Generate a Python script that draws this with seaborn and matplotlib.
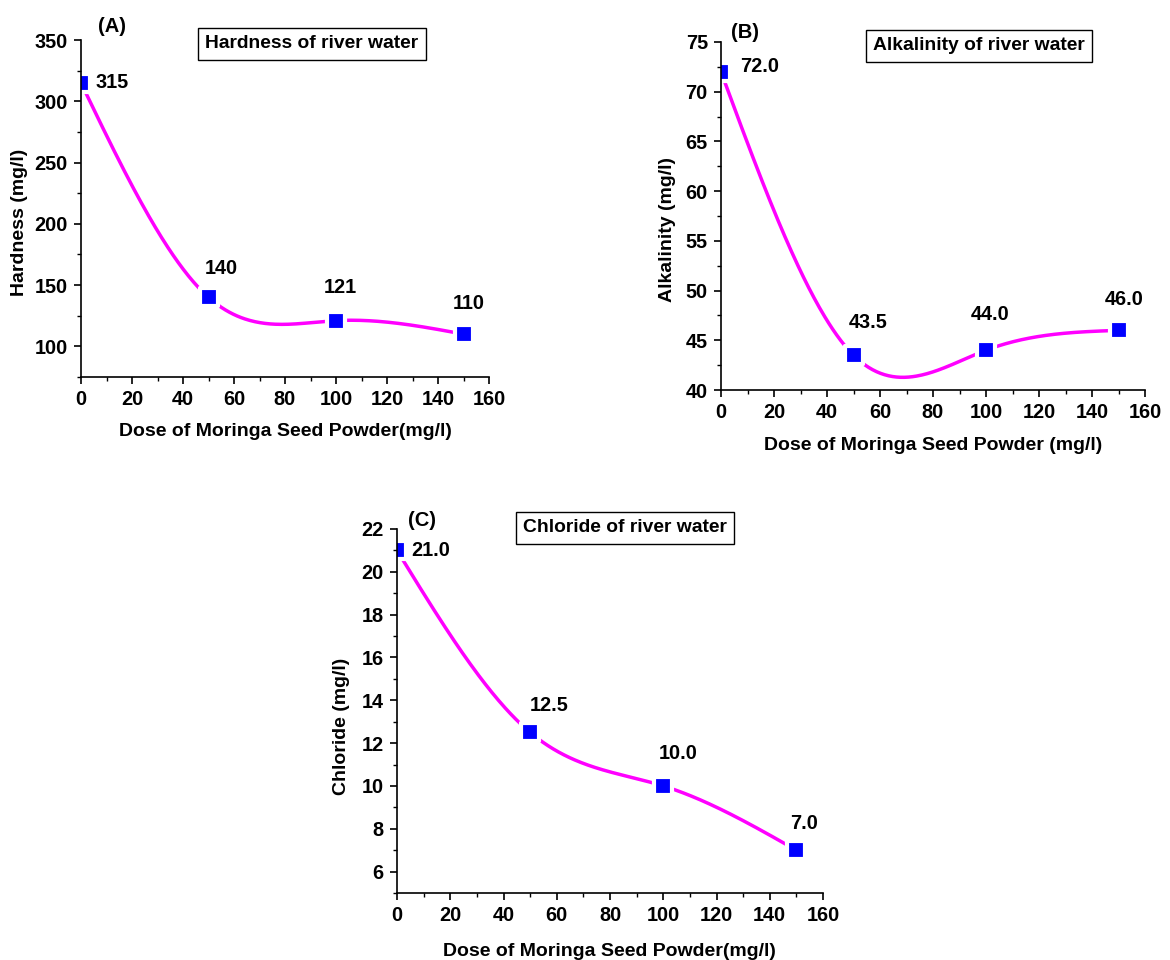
import numpy as np
import matplotlib
matplotlib.use("Agg")
import matplotlib.pyplot as plt
from matplotlib.ticker import MultipleLocator
import seaborn as sns

# data
dose = [0, 50, 100, 150]
hardness = [315, 140, 121, 110]
alkalinity = [72.0, 43.5, 44.0, 46.0]
chloride = [21.0, 12.5, 10.0, 7.0]

hardness_labels = ['315', '140', '121', '110']
alkalinity_labels = ['72.0', '43.5', '44.0', '46.0']
chloride_labels = ['21.0', '12.5', '10.0', '7.0']

sns.set_style("ticks")
plt.rcParams['font.family'] = ['Liberation Sans', 'DejaVu Sans']
plt.rcParams['font.weight'] = 'bold'
plt.rcParams['axes.labelweight'] = 'bold'
for k in ['text.color', 'axes.labelcolor', 'xtick.color', 'ytick.color', 'axes.edgecolor']:
    plt.rcParams[k] = 'black'

W, H = 1170, 960
fig = plt.figure(figsize=(W / 100, H / 100), dpi=100)


def natural_spline(x, y, n=300):
    # smooth curve through the points, like Origin's spline connector
    x = np.asarray(x, float)
    y = np.asarray(y, float)
    k = len(x)
    h = np.diff(x)
    A = np.zeros((k, k))
    r = np.zeros(k)
    A[0, 0] = A[-1, -1] = 1
    for i in range(1, k - 1):
        A[i, i - 1] = h[i - 1]
        A[i, i] = 2 * (h[i - 1] + h[i])
        A[i, i + 1] = h[i]
        r[i] = 3 * ((y[i + 1] - y[i]) / h[i] - (y[i] - y[i - 1]) / h[i - 1])
    c = np.linalg.solve(A, r)
    b = (y[1:] - y[:-1]) / h - h * (2 * c[:-1] + c[1:]) / 3
    d = (c[1:] - c[:-1]) / (3 * h)
    xs = np.linspace(x[0], x[-1], n)
    idx = np.clip(np.searchsorted(x, xs) - 1, 0, k - 2)
    dx = xs - x[idx]
    ys = y[idx] + b[idx] * dx + c[idx] * dx ** 2 + d[idx] * dx ** 3
    return xs, ys


def panel(box, x, y, labels, offsets, ylim, ymajor, yminor, ylabel, xlabel,
          ylab_pos, xlab_pos, tag, tag_pos, title, title_pos):
    left, top, right, bottom = box
    ax = fig.add_axes([left / W, 1 - bottom / H, (right - left) / W, (bottom - top) / H])
    xs, ys = natural_spline(x, y)
    sns.lineplot(x=xs, y=ys, ax=ax, color='#ff00ff', linewidth=2.5, sort=False, zorder=1)
    sns.scatterplot(x=x, y=y, ax=ax, marker='s', s=155, color='#0000ff',
                    edgecolor='white', linewidth=3, zorder=2)
    for xi, yi, lab, (ox, oy), ha in zip(x, y, labels, offsets, ['left', 'center', 'center', 'center']):
        ax.annotate(lab, (xi, yi), xytext=(ox, oy), textcoords='offset pixels',
                    ha=ha, va='center', fontsize=14.3, fontweight='bold')
    ax.set_xlim(0, 160)
    ax.set_ylim(*ylim)
    ax.xaxis.set_major_locator(MultipleLocator(20))
    ax.xaxis.set_minor_locator(MultipleLocator(10))
    ax.yaxis.set_major_locator(MultipleLocator(ymajor))
    ax.yaxis.set_minor_locator(MultipleLocator(yminor))
    sns.despine(ax=ax)
    for s in ['left', 'bottom']:
        ax.spines[s].set_linewidth(1.2)
    ax.tick_params(which='major', length=5, width=1.2, labelsize=14.3, direction='out', pad=4.5)
    ax.tick_params(which='minor', length=3, width=1.0, direction='out')
    for t in ax.get_xticklabels() + ax.get_yticklabels():
        t.set_fontweight('bold')
    ax.set_ylabel(ylabel, fontsize=14, fontweight='bold')
    ax.set_xlabel(xlabel, fontsize=14, fontweight='bold')
    ax.yaxis.set_label_coords((ylab_pos[0] - left) / (right - left), (bottom - ylab_pos[1]) / (bottom - top))
    ax.xaxis.set_label_coords((xlab_pos[0] - left) / (right - left), (bottom - xlab_pos[1]) / (bottom - top))
    ax.xaxis.label.set_va('center')
    ax.yaxis.label.set_va('center')
    fig.text(tag_pos[0] / W, 1 - tag_pos[1] / H, tag, ha='center', va='center',
             fontsize=14.5, fontweight='bold')
    fig.text(title_pos[0] / W, 1 - title_pos[1] / H, title, ha='center', va='center',
             fontsize=13.9, fontweight='bold',
             bbox=dict(boxstyle='square,pad=0.38', fc='white', ec='black', lw=1))
    return ax


panel((81, 40, 489, 377), dose, hardness, hardness_labels,
      [(15, 0), (13, 29), (4, 33), (5, 31)],
      (75, 350), 50, 25, 'Hardness (mg/l)', 'Dose of Moringa Seed Powder(mg/l)',
      (20, 222), (285, 432), '(A)', (112, 27), 'Hardness of river water', (312, 44))

panel((721, 42, 1145, 390), dose, alkalinity, alkalinity_labels,
      [(19, 5), (15, 33), (4, 36), (6, 31)],
      (40, 75), 5, 2.5, 'Alkalinity (mg/l)', 'Dose of Moringa Seed Powder (mg/l)',
      (668, 230), (933, 445), '(B)', (745, 33), 'Alkalinity of river water', (979, 46))

panel((397, 529, 823, 893), dose, chloride, chloride_labels,
      [(14, 0), (19, 27), (15, 32), (8, 27)],
      (5, 22), 2, 1, 'Chloride (mg/l)', 'Dose of Moringa Seed Powder(mg/l)',
      (342, 726), (609, 952), '(C)', (422, 521), 'Chloride of river water', (625, 528))

fig.savefig('out.png', dpi=100)
plt.close(fig)
